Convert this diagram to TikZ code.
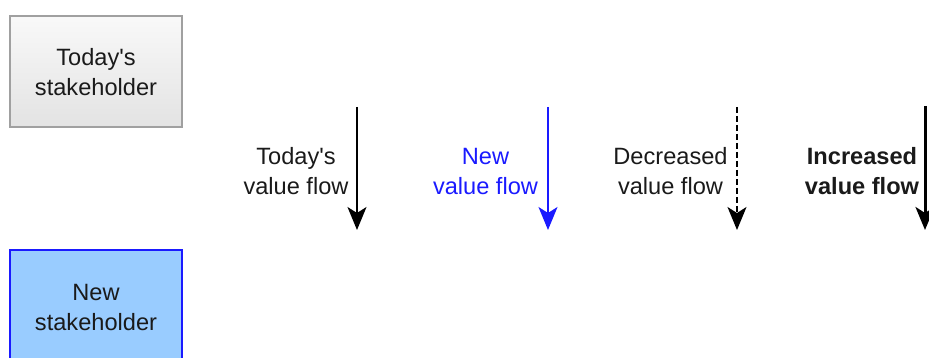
\documentclass[tikz,border=0pt]{standalone}
\usepackage{fontspec}
\setmainfont{Liberation Sans}
\usetikzlibrary{arrows.meta}
\definecolor{txt}{HTML}{1A1A1A}
\definecolor{boxgray}{HTML}{A0A0A0}
\definecolor{newblue}{HTML}{1A1AFF}
\definecolor{newfill}{HTML}{99CCFF}
\tikzset{
  lbl/.style={align=center, inner sep=0pt, text=txt, font=\fontsize{23.6}{30}\selectfont},
  flow/.style={line width=1.6pt, -{Stealth[length=23pt,width=19pt,inset=6pt]}},
  stakebox/.style={minimum width=172pt, minimum height=111pt, line width=2pt, inner sep=0pt}
}
\begin{document}
\begin{tikzpicture}[x=1pt,y=-1pt]
\useasboundingbox (0,0) rectangle (929,358);
% boxes
\node[stakebox, draw=boxgray, top color=white!95!gray, bottom color=gray!22, shading angle=0] (today) at (96,71.5) {};
\node[lbl] (todaytxt) at (96,72) {Today\textquotesingle s\\stakeholder};
\node[stakebox, draw=newblue, fill=newfill, minimum height=140pt] (new) at (96,320) {};
\node[lbl] (newtxt) at (96,307) {New\\stakeholder};
% arrows
\coordinate (a1s) at (357,107); \coordinate (a1e) at (357,230);
\coordinate (a2s) at (548,107); \coordinate (a2e) at (548,230);
\coordinate (a3s) at (737,107); \coordinate (a3e) at (737,230);
\coordinate (a4s) at (925,106); \coordinate (a4e) at (925,230);
\draw[flow, black] (a1s) -- (a1e);
\draw[flow, newblue] (a2s) -- (a2e);
\draw[flow, black, dash pattern=on 6pt off 3pt] (a3s) -- (a3e);
\draw[flow, black, line width=3pt] (a4s) -- (a4e);
% labels
\node[lbl] (l1) at (296,171) {Today\textquotesingle s\\value flow};
\node[lbl, text=newblue] (l2) at (485.5,171) {New\\value flow};
\node[lbl] (l3) at (670.5,171) {Decreased\\value flow};
\node[lbl, font=\fontsize{23.6}{30}\selectfont\bfseries] (l4) at (862,171) {Increased\\value flow};
\end{tikzpicture}
\end{document}
